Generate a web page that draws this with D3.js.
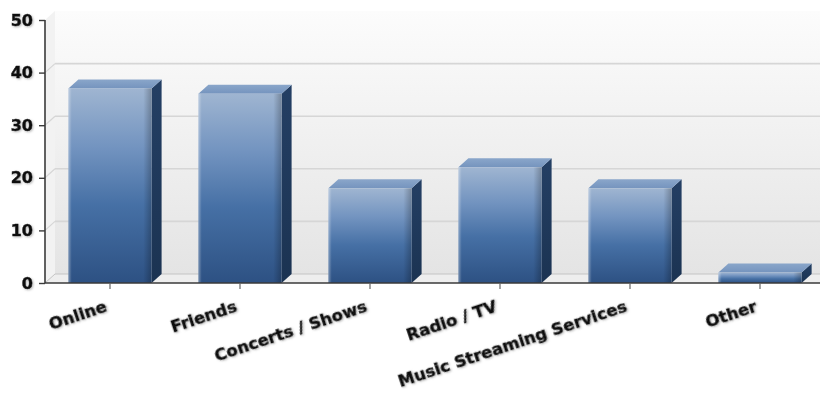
<!DOCTYPE html>
<html><head><meta charset="utf-8">
<script src="https://cdn.jsdelivr.net/npm/d3@7"></script>
<style>html,body{margin:0;padding:0;background:#fff;}svg{display:block;}</style>
</head><body>
<svg id="chart" width="820" height="394"></svg>
<script>
const categories = ["Online", "Friends", "Concerts / Shows", "Radio / TV", "Music Streaming Services", "Other"];
const values = [37, 36, 18, 22, 18, 2];
const yTicks = [0, 10, 20, 30, 40, 50];

(function () {
const svg = d3.select("#chart");
const W = 820, H = 394;
const pLeft = 45, pRight = 825, pTop = 20, pBottom = 283;
const dx = 10, dy = 9;

const x = d3.scaleBand().domain(categories).range([pLeft, pRight]).paddingInner(0.36).paddingOuter(0.18);
const y = d3.scaleLinear().domain([0, 50]).range([pBottom, pTop]);

const defs = svg.append("defs");
const wallG = defs.append("linearGradient").attr("id", "wall").attr("gradientUnits", "userSpaceOnUse")
  .attr("x1", 0).attr("y1", pTop - dy).attr("x2", 0).attr("y2", pBottom - dy);
wallG.append("stop").attr("offset", 0).attr("stop-color", "#fcfcfc");
wallG.append("stop").attr("offset", 1).attr("stop-color", "#e4e4e4");

const frontG = defs.append("linearGradient").attr("id", "front").attr("x1", 0).attr("y1", 0).attr("x2", 0).attr("y2", 1);
[[0, "#9fb5d1"], [0.3, "#7394c0"], [0.6, "#4670a5"], [1, "#2d5183"]].forEach(([o, c]) =>
  frontG.append("stop").attr("offset", o).attr("stop-color", c));
const hG = defs.append("linearGradient").attr("id", "fronth").attr("x1", 0).attr("y1", 0).attr("x2", 1).attr("y2", 0);
[[0, "#ffffff", 0.35], [0.04, "#ffffff", 0], [0.9, "#000000", 0], [1, "#000000", 0.25]].forEach(([o, c, op]) =>
  hG.append("stop").attr("offset", o).attr("stop-color", c).attr("stop-opacity", op));
const topG = defs.append("linearGradient").attr("id", "topf").attr("x1", 0).attr("y1", 0).attr("x2", 0).attr("y2", 1);
topG.append("stop").attr("offset", 0).attr("stop-color", "#8aa6ca");
topG.append("stop").attr("offset", 1).attr("stop-color", "#7594be");
const sideG = defs.append("linearGradient").attr("id", "side").attr("x1", 0).attr("y1", 0).attr("x2", 0).attr("y2", 1);
sideG.append("stop").attr("offset", 0).attr("stop-color", "#243f64");
sideG.append("stop").attr("offset", 1).attr("stop-color", "#1b3352");

const flt = defs.append("filter").attr("id", "tshadow").attr("x", "-10%").attr("y", "-30%").attr("width", "120%").attr("height", "160%");
flt.append("feDropShadow").attr("dx", 1).attr("dy", 1).attr("stdDeviation", 0.9).attr("flood-color", "#888").attr("flood-opacity", 0.6);

// back wall
svg.append("rect").attr("x", pLeft + dx).attr("y", pTop - dy).attr("width", pRight - pLeft).attr("height", pBottom - pTop).attr("fill", "url(#wall)");
// left wall
svg.append("path").attr("d", `M${pLeft},${pTop}L${pLeft + dx},${pTop - dy}L${pLeft + dx},${pBottom - dy}L${pLeft},${pBottom}Z`).attr("fill", "#f2f2f2");
// floor
svg.append("path").attr("d", `M${pLeft},${pBottom}L${pLeft + dx},${pBottom - dy}L${pRight + dx},${pBottom - dy}L${pRight},${pBottom}Z`).attr("fill", "#eeeeee");
svg.append("line").attr("x1", pLeft + dx).attr("x2", pRight + dx).attr("y1", pBottom - dy).attr("y2", pBottom - dy).attr("stroke", "#c4c4c4").attr("stroke-width", 1);
svg.append("line").attr("x1", pLeft).attr("x2", pLeft + dx).attr("y1", pBottom).attr("y2", pBottom - dy).attr("stroke", "#c4c4c4").attr("stroke-width", 1);

// gridlines
const grid = svg.append("g");
yTicks.filter(v => v > 0 && v < 50).forEach(v => {
  grid.append("line").attr("x1", pLeft + dx).attr("x2", pRight + dx).attr("y1", y(v) - dy).attr("y2", y(v) - dy)
    .attr("stroke", "#d6d6d6").attr("stroke-width", 1.6);
  grid.append("line").attr("x1", pLeft).attr("x2", pLeft + dx).attr("y1", y(v)).attr("y2", y(v) - dy)
    .attr("stroke", "#d6d6d6").attr("stroke-width", 1.2);
});

// bars
const bars = svg.append("g").selectAll("g").data(categories).join("g");
bars.each(function (c, i) {
  const g = d3.select(this);
  const x0 = x(c), bw = x.bandwidth(), yt = y(values[i]), yb = y(0);
  g.append("path").attr("d", `M${x0 + bw},${yt}L${x0 + bw + dx},${yt - dy}L${x0 + bw + dx},${yb - dy}L${x0 + bw},${yb}Z`).attr("fill", "url(#side)");
  g.append("path").attr("d", `M${x0},${yt}L${x0 + dx},${yt - dy}L${x0 + bw + dx},${yt - dy}L${x0 + bw},${yt}Z`).attr("fill", "url(#topf)");
  g.append("rect").attr("x", x0).attr("y", yt).attr("width", bw).attr("height", yb - yt).attr("fill", "url(#front)");
  g.append("rect").attr("x", x0).attr("y", yt).attr("width", bw).attr("height", yb - yt).attr("fill", "url(#fronth)");
});

// y axis
const yAxis = svg.append("g").attr("transform", `translate(${pLeft},0)`)
  .call(d3.axisLeft(y).tickValues(yTicks).tickSize(6).tickPadding(6).tickFormat(d3.format("d")));
yAxis.select(".domain").attr("stroke", "#3a3a3a").attr("stroke-width", 1.6).attr("d", `M0,${pTop}V${pBottom}`);
yAxis.selectAll(".tick line").attr("stroke", "#3a3a3a").attr("stroke-width", 1.4);
yAxis.selectAll(".tick text").attr("font-family", "DejaVu Sans, Verdana, sans-serif").attr("font-weight", "bold")
  .attr("font-size", 16).attr("fill", "#111").attr("stroke", "#111").attr("stroke-width", 0.5)
  .attr("filter", "url(#tshadow)");

// x axis
const xAxis = svg.append("g").attr("transform", `translate(0,${pBottom})`)
  .call(d3.axisBottom(x).tickSize(6).tickPadding(0).tickSizeOuter(0));
xAxis.select(".domain").attr("stroke", "#3a3a3a").attr("stroke-width", 1.6).attr("d", `M${pLeft},0H${W}`);
xAxis.selectAll(".tick line").attr("stroke", "#666").attr("stroke-width", 1.2);
xAxis.selectAll(".tick text").attr("font-family", "DejaVu Sans, Verdana, sans-serif").attr("font-weight", "bold")
  .attr("font-size", 16.5).attr("fill", "#111").attr("stroke", "#111").attr("stroke-width", 0.5)
  .attr("text-anchor", "end").attr("dy", 0).attr("y", 0)
  .attr("transform", "translate(-2,28) rotate(-18.5)").attr("filter", "url(#tshadow)");
})();
</script>
</body></html>
